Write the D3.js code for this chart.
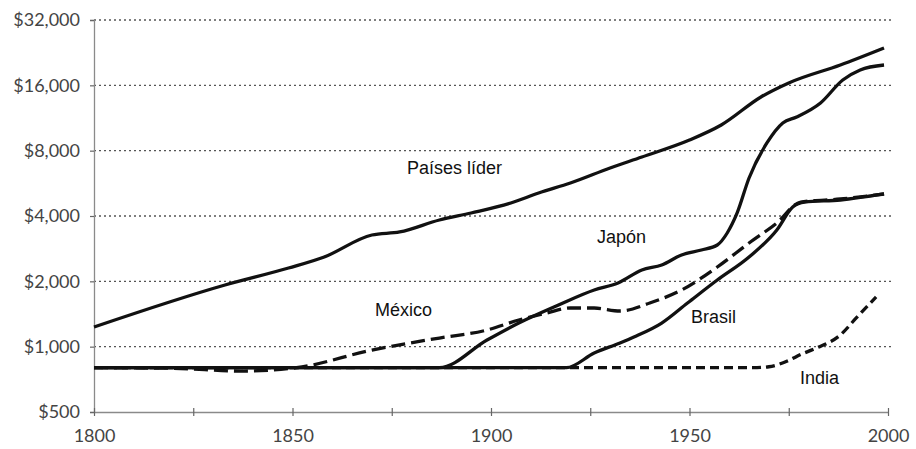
<!DOCTYPE html>
<html>
<head>
<meta charset="utf-8">
<script src="https://cdn.jsdelivr.net/npm/d3@7"></script>
<style>
  html, body { margin: 0; padding: 0; background: #fff; }
  svg { display: block; }
</style>
</head>
<body>
<svg id="chart" width="916" height="449"></svg>
<script>
// ---- Data (GDP per capita, log scale) ----
const yTickValues = [500, 1000, 2000, 4000, 8000, 16000, 32000];
const yTickLabels = ["$500", "$1,000", "$2,000", "$4,000", "$8,000", "$16,000", "$32,000"];
const xTickValues = [1800, 1825, 1850, 1875, 1900, 1925, 1950, 1975, 2000];
const xTickLabels = ["1800", "", "1850", "", "1900", "", "1950", "", "2000"];

const leaderYears  = [1800, 1833, 1849, 1858, 1870, 1877, 1887, 1895, 1905, 1912, 1920, 1930, 1938, 1950, 1958, 1968, 1975, 1988, 1999];
const leaderValues = [1232, 1924, 2304, 2590, 3270, 3376, 3834, 4130, 4592, 5106, 5677, 6660, 7481, 8958, 10505, 14141, 16410, 19850, 23785];

const japanYears  = [1800, 1887, 1899, 1907, 1917, 1926, 1932, 1938, 1943, 1948, 1953, 1957, 1959.5, 1962, 1965, 1969.5, 1973.5, 1977, 1983, 1988.6, 1993, 1999];
const japanValues = [800, 800, 1073, 1285, 1556, 1824, 1965, 2256, 2378, 2645, 2789, 2941, 3340, 4130, 5987, 8680, 10733, 11433, 13270, 16935, 18830, 19850];

const mexicoYears  = [1800, 1820, 1837, 1851, 1870, 1887, 1899, 1907, 1914, 1920, 1926, 1932.5, 1940, 1948, 1957, 1965, 1972, 1978, 1988, 1999];
const mexicoValues = [800, 795, 772, 800, 965, 1096, 1193, 1327, 1429, 1507, 1507, 1460, 1589, 1824, 2329, 3004, 3714, 4640, 4790, 5052];

const brazilYears  = [1800, 1919, 1926, 1932.5, 1936, 1943, 1949.5, 1957, 1965, 1972, 1976, 1979, 1988, 1999];
const brazilValues = [800, 800, 935, 1040, 1108, 1285, 1589, 2028, 2590, 3449, 4401, 4640, 4740, 5052];

const indiaYears  = [1800, 1966, 1970, 1975, 1978, 1982, 1988, 1992, 1997];
const indiaValues = [800, 800, 808, 865, 920, 986, 1132, 1356, 1694];

const seriesNames = ["Países líder", "Japón", "México", "Brasil", "India"];

// ---- Build series ----
const zip = (xs, ys) => xs.map((x, i) => ({ year: x, value: ys[i] }));
const series = [
  { name: seriesNames[0], data: zip(leaderYears, leaderValues), dash: null,   lx: 407, ly: 174 },
  { name: seriesNames[1], data: zip(japanYears, japanValues),   dash: null,   lx: 597, ly: 243 },
  { name: seriesNames[2], data: zip(mexicoYears, mexicoValues), dash: "14,6", lx: 375, ly: 316 },
  { name: seriesNames[3], data: zip(brazilYears, brazilValues), dash: null,   lx: 691, ly: 323 },
  { name: seriesNames[4], data: zip(indiaYears, indiaValues),   dash: "9,5",  lx: 800, ly: 384 }
];

// ---- Scales ----
const x = d3.scaleLinear().domain([1800, 2000]).range([94, 888]);
const y = d3.scaleLog().base(2).domain([500, 32000]).range([412, 20]);

const svg = d3.select("#chart");

// gridlines
svg.append("g")
  .selectAll("line")
  .data(yTickValues.filter(v => v > 500))
  .join("line")
  .attr("x1", x(1800))
  .attr("x2", 892)
  .attr("y1", d => y(d))
  .attr("y2", d => y(d))
  .attr("stroke", "#555")
  .attr("stroke-width", 1.4)
  .attr("stroke-dasharray", "2,3");

// y axis
const yAxis = d3.axisLeft(y)
  .tickValues(yTickValues)
  .tickFormat((d, i) => yTickLabels[i])
  .tickSize(4)
  .tickPadding(10);
const gy = svg.append("g").attr("transform", `translate(${x(1800)},0)`).call(yAxis);
gy.select(".domain").attr("stroke", "#8a8a8a").attr("stroke-width", 1.3);
gy.selectAll(".tick line").attr("stroke", "#666").attr("stroke-width", 1.2);
gy.selectAll(".tick text")
  .attr("fill", "#444")
  .style("font-family", "Lato, 'Open Sans', sans-serif")
  .style("font-size", "18px");

// x axis
const xAxis = d3.axisBottom(x)
  .tickValues(xTickValues)
  .tickFormat((d, i) => xTickLabels[i])
  .tickSize(0)
  .tickPadding(17);
const gx = svg.append("g").attr("transform", `translate(0,${y(500)})`).call(xAxis);
gx.select(".domain").attr("stroke", "#8a8a8a").attr("stroke-width", 1.3);
gx.selectAll(".tick").append("line")
  .attr("y1", -4).attr("y2", 4)
  .attr("stroke", "#666").attr("stroke-width", 1.2);
gx.selectAll(".tick text")
  .attr("fill", "#444")
  .style("font-family", "Lato, 'Open Sans', sans-serif")
  .style("font-size", "18px");

// lines
const line = d3.line()
  .x(d => x(d.year))
  .y(d => y(d.value))
  .curve(d3.curveMonotoneX);

svg.append("g")
  .selectAll("path")
  .data(series)
  .join("path")
  .attr("d", d => line(d.data))
  .attr("fill", "none")
  .attr("stroke", "#111")
  .attr("stroke-width", 3.3)
  .attr("stroke-linejoin", "round")
  .attr("stroke-dasharray", d => d.dash);

// labels
svg.append("g")
  .selectAll("text")
  .data(series)
  .join("text")
  .attr("x", d => d.lx)
  .attr("y", d => d.ly)
  .text(d => d.name)
  .attr("fill", "#111")
  .style("font-family", "'Liberation Sans', Arial, sans-serif")
  .style("font-size", "18px");
</script>
</body>
</html>
